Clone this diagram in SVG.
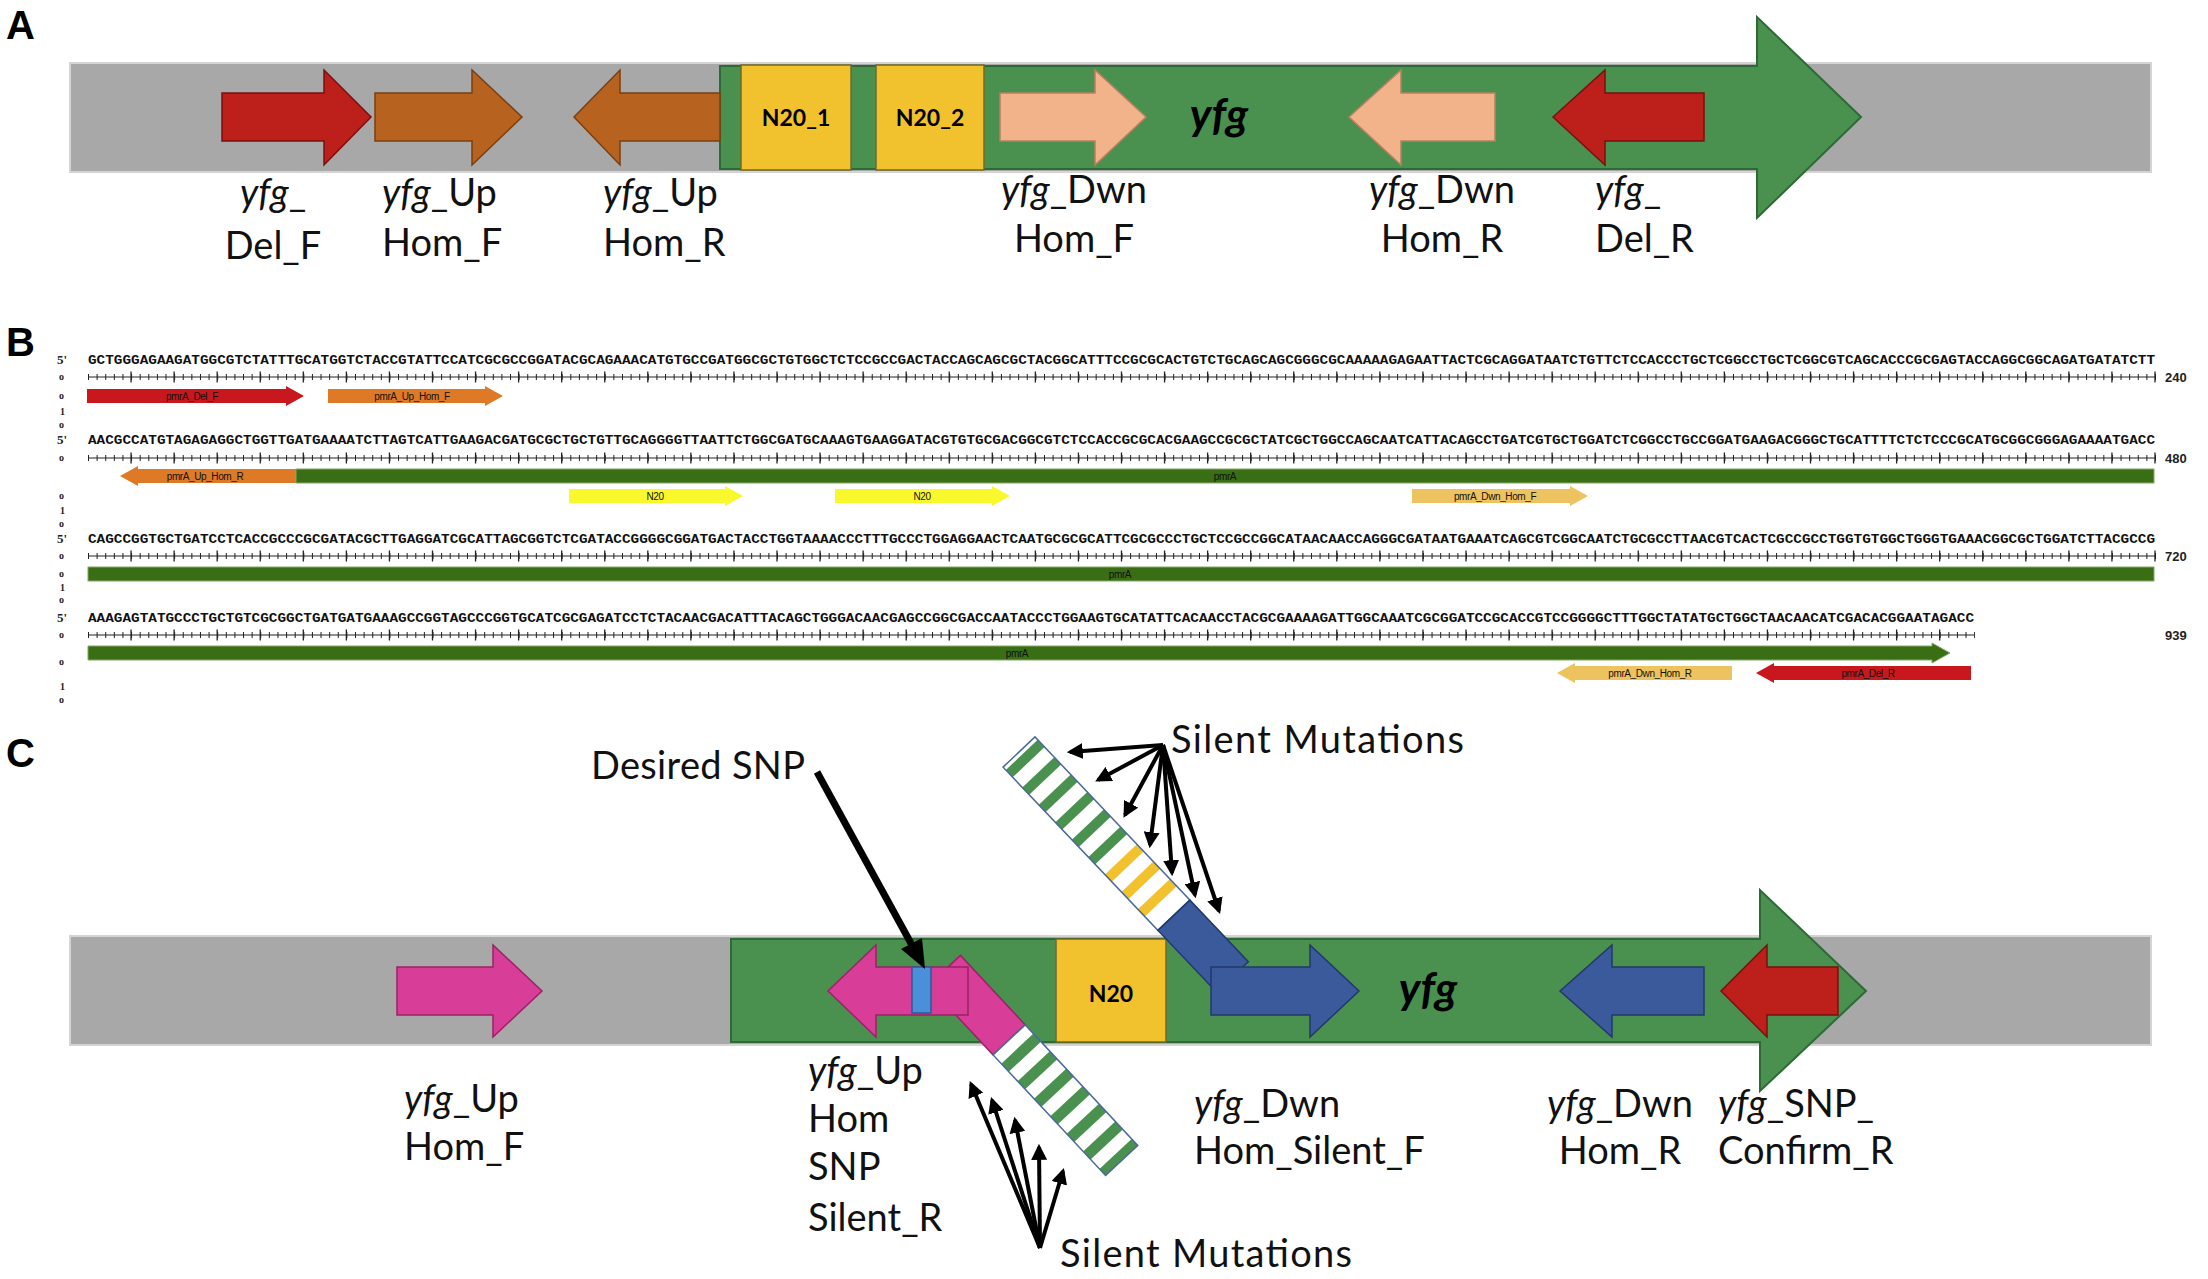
<svg xmlns="http://www.w3.org/2000/svg" width="2208" height="1279" viewBox="0 0 2208 1279">
<style>
.pl{font-family:"Liberation Sans",Arial,sans-serif;font-weight:bold;font-size:40px;fill:#000}
.lb{font-family:Lato,"Open Sans",sans-serif;font-size:38px;fill:#111}
.it{font-style:italic}
.yfg{font-family:Lato,"Open Sans",sans-serif;font-weight:bold;font-style:italic;font-size:44px;fill:#000}
.n20{font-family:Lato,"Open Sans",sans-serif;font-weight:bold;font-size:23px;fill:#000}
.bar{fill:#a8a8a8;stroke:#d4d4d4;stroke-width:2}
.gene{fill:#4a9150;stroke:#2d6a36;stroke-width:2}
.box{fill:#f2c12e;stroke:#6f6a2a;stroke-width:1.5}
.red{fill:#bd1f1a;stroke:#7a1010;stroke-width:1.5}
.org{fill:#b8621f;stroke:#7a3f10;stroke-width:1.5}
.pch{fill:#f2b38a;stroke:#b98060;stroke-width:1.5}
.pnk{fill:#d83e98;stroke:#9a2266;stroke-width:1.5}
.blu{fill:#3a5a9c;stroke:#22386a;stroke-width:1.5}
.seq{font-family:"Liberation Mono","Courier New",monospace;font-weight:bold;font-size:13px;fill:#111}
.mg{font-family:"Liberation Serif",serif;font-weight:bold;font-size:13px;fill:#222}
.ms{font-family:"Liberation Serif",serif;font-weight:bold;font-size:10px;fill:#222}
.num{font-family:"Liberation Sans",Arial,sans-serif;font-weight:bold;font-size:13px;fill:#222}
.fl{font-family:"Liberation Sans",Arial,sans-serif;font-size:10px;letter-spacing:-0.4px;fill:#111;text-anchor:middle}
.rl{stroke:#222;stroke-width:1;fill:none}
.tk{stroke:#222;stroke-width:6;stroke-dasharray:1 7.6125;fill:none}
.tk5{stroke:#222;stroke-width:11;stroke-dasharray:1.3 41.7625;fill:none}
.gb{fill:#3a6e14;stroke:#86a86a;stroke-width:1}
.pr{fill:#c8181e}
.po{fill:#de7a26}
.py{fill:#f8f82c}
.pd{fill:#ecc35e}
.sw{fill:#fff}
.sg{fill:#4a9150}
.sy{fill:#f2c12e}
.ar{stroke:#000;stroke-width:4;fill:none}
</style>
<defs>
<marker id="ah" viewBox="0 0 10 10" refX="8" refY="5" markerWidth="4" markerHeight="4" orient="auto" markerUnits="strokeWidth"><path d="M0,0 L10,5 L0,10 z" fill="#000"/></marker>
</defs>
<rect width="2208" height="1279" fill="#fff"/>

<!-- ================= PANEL A ================= -->
<g id="panelA">
<text class="pl" x="6" y="39">A</text>
<rect id="A_bar" class="bar" x="70" y="63" width="2081" height="109"/>
<polygon id="A_gene" class="gene" points="720,66 1757,66 1757,17 1861,117 1757,218 1757,169 720,169"/>
<g id="A_N20_1"><rect class="box" x="741" y="65" width="110" height="105"/><text class="n20" x="796" y="126" text-anchor="middle">N20_1</text></g>
<g id="A_N20_2"><rect class="box" x="876" y="65" width="108" height="105"/><text class="n20" x="930" y="126" text-anchor="middle">N20_2</text></g>
<text class="yfg" x="1219" y="130" text-anchor="middle">yfg</text>
<g id="A_DelF"><polygon class="red" points="222,93 324,93 324,70 371,117 324,165 324,141 222,141"/>
<text class="lb" x="273" y="206" text-anchor="middle"><tspan class="it">yfg</tspan>_</text><text class="lb" x="273" y="259" text-anchor="middle">Del_F</text></g>
<g id="A_UpHomF"><polygon class="org" points="375,93 472,93 472,70 522,117 472,165 472,141 375,141"/>
<text class="lb" x="382" y="206"><tspan class="it">yfg</tspan>_Up</text><text class="lb" x="382" y="256">Hom_F</text></g>
<g id="A_UpHomR"><polygon class="org" points="574,117 620,70 620,93 720,93 720,141 620,141 620,165"/>
<text class="lb" x="603" y="206"><tspan class="it">yfg</tspan>_Up</text><text class="lb" x="603" y="256">Hom_R</text></g>
<g id="A_DwnHomF"><polygon class="pch" points="1000,93 1095,93 1095,70 1146,117 1095,165 1095,141 1000,141"/>
<text class="lb" x="1074" y="203" text-anchor="middle"><tspan class="it">yfg</tspan>_Dwn</text><text class="lb" x="1074" y="252" text-anchor="middle">Hom_F</text></g>
<g id="A_DwnHomR"><polygon class="pch" points="1349,117 1401,70 1401,93 1495,93 1495,141 1401,141 1401,165"/>
<text class="lb" x="1442" y="203" text-anchor="middle"><tspan class="it">yfg</tspan>_Dwn</text><text class="lb" x="1442" y="252" text-anchor="middle">Hom_R</text></g>
<g id="A_DelR"><polygon class="red" points="1553,117 1605,70 1605,93 1704,93 1704,141 1605,141 1605,165"/>
<text class="lb" x="1595" y="203"><tspan class="it">yfg</tspan>_</text><text class="lb" x="1595" y="252">Del_R</text></g>
</g>

<!-- ================= PANEL B ================= -->
<g id="panelB">
<text class="pl" x="6" y="356">B</text>
<g id="B_margin">
<text class="mg" x="57" y="364">5'</text><text class="ms" x="59" y="380">o</text><text class="ms" x="59" y="399">o</text><text class="ms" x="60" y="415">1</text><text class="ms" x="59" y="428">o</text>
<text class="mg" x="57" y="444">5'</text><text class="ms" x="59" y="461">o</text><text class="ms" x="59" y="499">o</text><text class="ms" x="60" y="514">1</text><text class="ms" x="59" y="527">o</text>
<text class="mg" x="57" y="543">5'</text><text class="ms" x="59" y="559">o</text><text class="ms" x="59" y="577">o</text><text class="ms" x="60" y="591">1</text><text class="ms" x="59" y="603">o</text>
<text class="mg" x="57" y="622">5'</text><text class="ms" x="59" y="638">o</text><text class="ms" x="59" y="665">o</text><text class="ms" x="60" y="690">1</text><text class="ms" x="59" y="703">o</text>
</g>
<g id="B_row1">
<text class="seq" x="88" y="364" textLength="2067" lengthAdjust="spacingAndGlyphs">GCTGGGAGAAGATGGCGTCTATTTGCATGGTCTACCGTATTCCATCGCGCCGGATACGCAGAAACATGTGCCGATGGCGCTGTGGCTCTCCGCCGACTACCAGCAGCGCTACGGCATTTCCGCGCACTGTCTGCAGCAGCGGGCGCAAAAAGAGAATTACTCGCAGGATAATCTGTTCTCCACCCTGCTCGGCCTGCTCGGCGTCAGCACCCGCGAGTACCAGGCGGCAGATGATATCTT</text>
<line class="rl" x1="88" y1="377" x2="2155" y2="377"/><line class="tk" x1="88" y1="377" x2="2156" y2="377"/><line class="tk5" x1="130.4" y1="377" x2="2156" y2="377"/>
<text class="num" x="2165" y="382">240</text>
</g>
<g id="B_row2">
<text class="seq" x="88" y="444" textLength="2067" lengthAdjust="spacingAndGlyphs">AACGCCATGTAGAGAGGCTGGTTGATGAAAATCTTAGTCATTGAAGACGATGCGCTGCTGTTGCAGGGGTTAATTCTGGCGATGCAAAGTGAAGGATACGTGTGCGACGGCGTCTCCACCGCGCACGAAGCCGCGCTATCGCTGGCCAGCAATCATTACAGCCTGATCGTGCTGGATCTCGGCCTGCCGGATGAAGACGGGCTGCATTTTCTCTCCCGCATGCGGCGGGAGAAAATGACC</text>
<line class="rl" x1="88" y1="458" x2="2155" y2="458"/><line class="tk" x1="88" y1="458" x2="2156" y2="458"/><line class="tk5" x1="130.4" y1="458" x2="2156" y2="458"/>
<text class="num" x="2165" y="463">480</text>
</g>
<g id="B_row3">
<text class="seq" x="88" y="543" textLength="2067" lengthAdjust="spacingAndGlyphs">CAGCCGGTGCTGATCCTCACCGCCCGCGATACGCTTGAGGATCGCATTAGCGGTCTCGATACCGGGGCGGATGACTACCTGGTAAAACCCTTTGCCCTGGAGGAACTCAATGCGCGCATTCGCGCCCTGCTCCGCCGGCATAACAACCAGGGCGATAATGAAATCAGCGTCGGCAATCTGCGCCTTAACGTCACTCGCCGCCTGGTGTGGCTGGGTGAAACGGCGCTGGATCTTACGCCG</text>
<line class="rl" x1="88" y1="556" x2="2155" y2="556"/><line class="tk" x1="88" y1="556" x2="2156" y2="556"/><line class="tk5" x1="130.4" y1="556" x2="2156" y2="556"/>
<text class="num" x="2165" y="561">720</text>
</g>
<g id="B_row4">
<text class="seq" x="88" y="622" textLength="1886" lengthAdjust="spacingAndGlyphs">AAAGAGTATGCCCTGCTGTCGCGGCTGATGATGAAAGCCGGTAGCCCGGTGCATCGCGAGATCCTCTACAACGACATTTACAGCTGGGACAACGAGCCGGCGACCAATACCCTGGAAGTGCATATTCACAACCTACGCGAAAAGATTGGCAAATCGCGGATCCGCACCGTCCGGGGCTTTGGCTATATGCTGGCTAACAACATCGACACGGAATAGACC</text>
<line class="rl" x1="88" y1="635" x2="1974" y2="635"/><line class="tk" x1="88" y1="635" x2="1975" y2="635"/><line class="tk5" x1="130.4" y1="635" x2="1975" y2="635"/>
<text class="num" x="2165" y="640">939</text>
</g>
<g id="B_features">
<g id="B_pmrA_Del_F"><polygon class="pr" points="87,389 286,389 286,386 304,396 286,406 286,403 87,403"/><text class="fl" x="192" y="400">pmrA_Del_F</text></g>
<g id="B_pmrA_Up_Hom_F"><polygon class="po" points="328,389 485,389 485,386 503,396 485,406 485,403 328,403"/><text class="fl" x="412" y="400">pmrA_Up_Hom_F</text></g>
<g id="B_pmrA_Up_Hom_R"><polygon class="po" points="120,476 138,466 138,469 296,469 296,483 138,483 138,486"/><text class="fl" x="205" y="480">pmrA_Up_Hom_R</text></g>
<g id="B_pmrA_r2"><rect class="gb" x="296" y="469" width="1858" height="14"/><text class="fl" x="1225" y="480">pmrA</text></g>
<g id="B_N20a"><polygon class="py" points="569,489 725,489 725,486 743,496 725,506 725,503 569,503"/><text class="fl" x="655" y="500">N20</text></g>
<g id="B_N20b"><polygon class="py" points="835,489 992,489 992,486 1010,496 992,506 992,503 835,503"/><text class="fl" x="922" y="500">N20</text></g>
<g id="B_pmrA_Dwn_Hom_F"><polygon class="pd" points="1412,489 1570,489 1570,486 1588,496 1570,506 1570,503 1412,503"/><text class="fl" x="1495" y="500">pmrA_Dwn_Hom_F</text></g>
<g id="B_pmrA_r3"><rect class="gb" x="88" y="567" width="2066" height="14"/><text class="fl" x="1120" y="578">pmrA</text></g>
<g id="B_pmrA_r4"><polygon class="gb" points="88,646 1932,646 1932,643 1950,653 1932,663 1932,660 88,660"/><text class="fl" x="1017" y="657">pmrA</text></g>
<g id="B_pmrA_Dwn_Hom_R"><polygon class="pd" points="1557,673 1575,663 1575,666 1732,666 1732,680 1575,680 1575,683"/><text class="fl" x="1650" y="677">pmrA_Dwn_Hom_R</text></g>
<g id="B_pmrA_Del_R"><polygon class="pr" points="1756,673 1774,663 1774,666 1971,666 1971,680 1774,680 1774,683"/><text class="fl" x="1868" y="677">pmrA_Del_R</text></g>
</g>
</g>

<!-- ================= PANEL C ================= -->
<g id="panelC">
<text class="pl" x="6" y="767">C</text>
<rect id="C_bar" class="bar" x="70" y="936" width="2081" height="109"/>
<polygon id="C_gene" class="gene" points="731,939 1760,939 1760,890 1866,991 1760,1091 1760,1042 731,1042"/>
<g id="C_N20"><rect class="box" x="1056" y="939" width="110" height="103"/><text class="n20" x="1111" y="1002" text-anchor="middle">N20</text></g>
<text class="yfg" x="1428" y="1004" text-anchor="middle">yfg</text>
<g id="C_UpHomF"><polygon class="pnk" points="397,967 493,967 493,945 542,991 493,1037 493,1015 397,1015"/>
<text class="lb" x="404" y="1112"><tspan class="it">yfg</tspan>_Up</text><text class="lb" x="404" y="1160">Hom_F</text></g>
<g id="C_UpHomSNP">
<g transform="translate(958,985) rotate(47)">
<rect class="pnk" x="-20" y="-22" width="95" height="44"/>
<rect class="sw" x="75" y="-22" width="165" height="44"/>
<rect class="sg" x="87" y="-22" width="11" height="44"/><rect class="sg" x="111" y="-22" width="11" height="44"/>
<rect class="sg" x="135" y="-22" width="11" height="44"/><rect class="sg" x="159" y="-22" width="11" height="44"/>
<rect class="sg" x="183" y="-22" width="11" height="44"/><rect class="sg" x="207" y="-22" width="11" height="44"/>
<rect class="sg" x="231" y="-22" width="9" height="44"/>
<rect x="75" y="-22" width="165" height="44" fill="none" stroke="#4a6a9a" stroke-width="1.5"/>
</g>
<polygon class="pnk" points="828,991 876,945 876,967 968,967 968,1015 876,1015 876,1037"/>
<rect x="912" y="967" width="19" height="46" fill="#4a90d9" stroke="#2a5a9a" stroke-width="1.5"/>
<text class="lb" x="808" y="1084"><tspan class="it">yfg</tspan>_Up</text><text class="lb" x="808" y="1132">Hom</text><text class="lb" x="808" y="1180">SNP</text><text class="lb" x="808" y="1231">Silent_R</text>
</g>
<g id="C_DwnHomSilentF">
<g transform="translate(1019,752) rotate(46.5)">
<rect class="sw" x="0" y="-22" width="225" height="44"/>
<rect class="sg" x="4" y="-22" width="10" height="44"/><rect class="sg" x="28" y="-22" width="10" height="44"/>
<rect class="sg" x="52" y="-22" width="10" height="44"/><rect class="sg" x="76" y="-22" width="10" height="44"/>
<rect class="sg" x="100" y="-22" width="10" height="44"/><rect class="sg" x="124" y="-22" width="10" height="44"/>
<rect class="sy" x="148" y="-22" width="10" height="44"/><rect class="sy" x="172" y="-22" width="10" height="44"/>
<rect class="sy" x="196" y="-22" width="10" height="44"/>
<rect x="0" y="-22" width="225" height="44" fill="none" stroke="#4a6a9a" stroke-width="1.5"/>
<rect class="blu" x="225" y="-22" width="85" height="44"/>
</g>
<polygon class="blu" points="1211,967 1310,967 1310,945 1359,991 1310,1037 1310,1015 1211,1015"/>
<text class="lb" x="1194" y="1117"><tspan class="it">yfg</tspan>_Dwn</text><text class="lb" x="1194" y="1164">Hom_Silent_F</text>
</g>
<g id="C_DwnHomR"><polygon class="blu" points="1560,991 1612,945 1612,967 1704,967 1704,1015 1612,1015 1612,1037"/>
<text class="lb" x="1620" y="1117" text-anchor="middle"><tspan class="it">yfg</tspan>_Dwn</text><text class="lb" x="1620" y="1164" text-anchor="middle">Hom_R</text></g>
<g id="C_SNPConfirmR"><polygon class="red" points="1721,991 1767,945 1767,967 1838,967 1838,1015 1767,1015 1767,1037"/>
<text class="lb" x="1718" y="1117"><tspan class="it">yfg</tspan>_SNP_</text><text class="lb" x="1718" y="1164">Confirm_R</text></g>
<text id="C_desired" class="lb" x="591" y="779" textLength="214" lengthAdjust="spacing">Desired SNP</text>
<text id="C_silent_top" class="lb" x="1171" y="753" textLength="293" lengthAdjust="spacing">Silent Mutations</text>
<text id="C_silent_bot" class="lb" x="1060" y="1267" textLength="292" lengthAdjust="spacing">Silent Mutations</text>
</g>

<g id="connectors">
<line x1="817" y1="772" x2="913" y2="947" stroke="#000" stroke-width="7"/>
<polygon points="925,969 901,949 922,938" fill="#000"/>
<line class="ar" x1="1163" y1="745" x2="1070" y2="752" marker-end="url(#ah)"/>
<line class="ar" x1="1163" y1="745" x2="1098" y2="780" marker-end="url(#ah)"/>
<line class="ar" x1="1163" y1="745" x2="1125" y2="815" marker-end="url(#ah)"/>
<line class="ar" x1="1163" y1="745" x2="1150" y2="845" marker-end="url(#ah)"/>
<line class="ar" x1="1163" y1="745" x2="1172" y2="873" marker-end="url(#ah)"/>
<line class="ar" x1="1163" y1="745" x2="1195" y2="895" marker-end="url(#ah)"/>
<line class="ar" x1="1163" y1="745" x2="1219" y2="911" marker-end="url(#ah)"/>
<line class="ar" x1="1040" y1="1248" x2="971" y2="1084" marker-end="url(#ah)"/>
<line class="ar" x1="1040" y1="1248" x2="992" y2="1100" marker-end="url(#ah)"/>
<line class="ar" x1="1040" y1="1248" x2="1015" y2="1120" marker-end="url(#ah)"/>
<line class="ar" x1="1040" y1="1248" x2="1039" y2="1147" marker-end="url(#ah)"/>
<line class="ar" x1="1040" y1="1248" x2="1063" y2="1171" marker-end="url(#ah)"/>
</g>
</svg>
